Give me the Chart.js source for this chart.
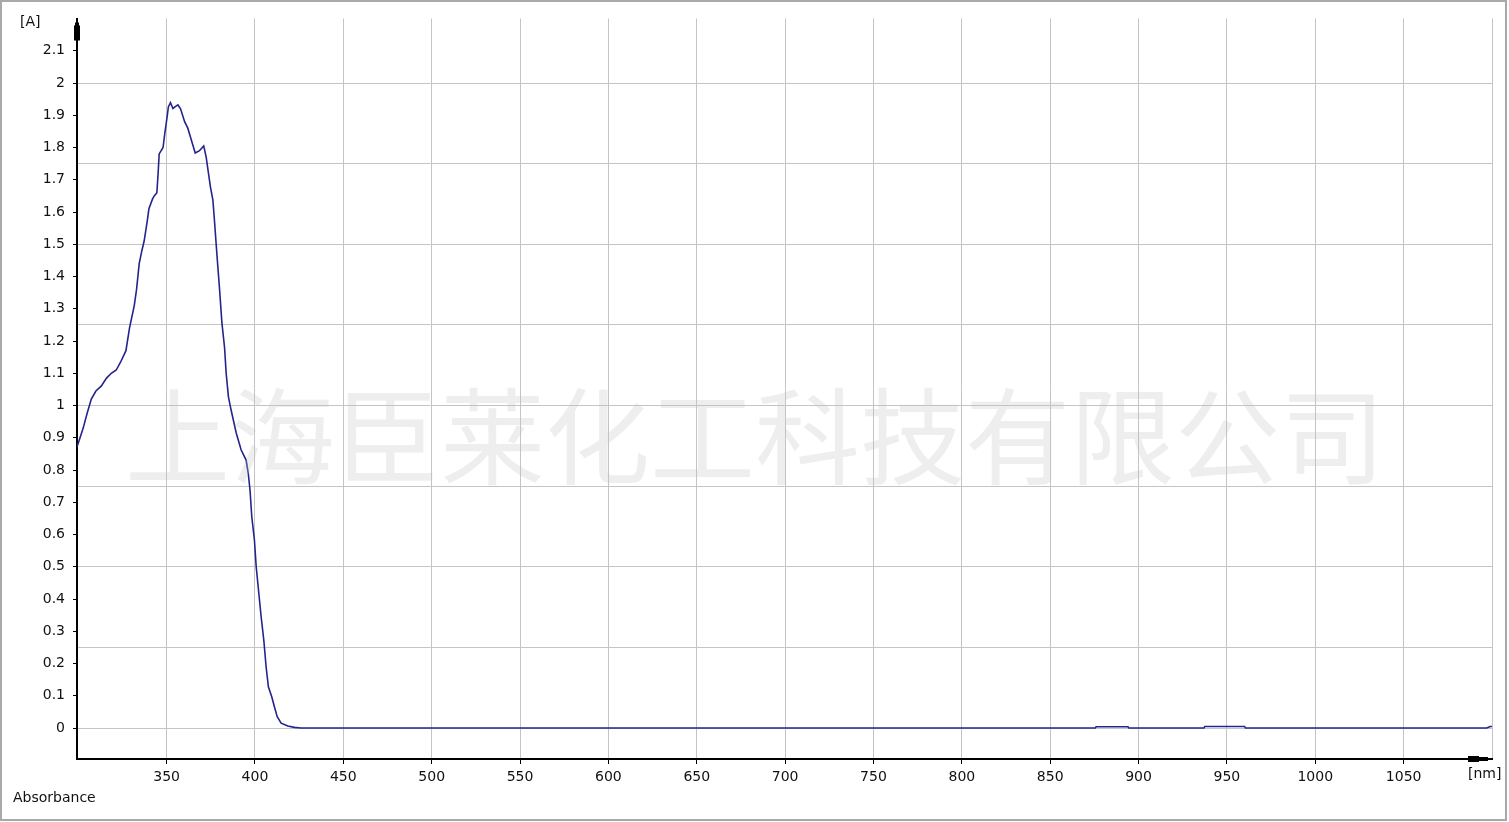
<!DOCTYPE html>
<html>
<head>
<meta charset="utf-8">
<script src="https://cdn.jsdelivr.net/npm/chart.js@4/dist/chart.umd.min.js"></script>
<style>
  html, body { margin: 0; padding: 0; background: #fff; }
  #wrap { position: relative; width: 1509px; height: 822px; overflow: hidden; background: #fff; }
  #c { position: absolute; left: 0; top: 0; }
  .lbl { position: absolute; font-family: "DejaVu Sans", sans-serif; font-size: 14px; line-height: 14px; color: #111; white-space: nowrap; }
  #frame { position: absolute; left: 0; top: 0; width: 1503px; height: 817px; border: 2px solid #a9a9a9; pointer-events: none; }
  #wm { position: absolute; left: 125px; top: 378px; font-family: "Noto Sans CJK SC", sans-serif; font-size: 105px; line-height: 105px; color: rgba(195,195,195,0.28); white-space: nowrap; pointer-events: none; }
</style>
</head>
<body>
<div id="wrap">
  <canvas id="c" width="1509" height="822"></canvas>
  <div class="lbl" style="left:20px;top:14px;">[A]</div>
  <div class="lbl" style="left:1468px;top:766px;">[nm]</div>
  <div class="lbl" style="left:13px;top:790px;">Absorbance</div>
  <div id="wm">上海臣莱化工科技有限公司</div>
  <div id="frame"></div>
</div>
<script>
// ---- data ----
const wavelengths = [
  299.3, 302.8, 305, 307.4, 310, 313, 316, 318.7, 321.5, 324, 327, 329, 331.7, 333, 334.5,
  336, 337.3, 339, 340, 342, 343, 344.5, 345.2, 345.8, 348, 349, 350.3, 351, 352.2, 353.6,
  354.9, 356.4, 357.9, 360.2, 362, 364, 366.2, 368.6, 371, 372.4, 373.7, 374.8, 376.2, 377,
  378, 379, 380, 381.3, 382.8, 383.7, 385, 386.5, 389.4, 392.2, 395, 396.2, 397.2, 398.2,
  399.7, 400.7, 402, 403.5, 405, 406.3, 407.6, 409.5, 411, 412.6, 414.8, 418.6, 422.3, 426,
  875.5, 876, 894, 894.5, 937, 937.5, 960, 960.5, 1097, 1099, 1100
];
const absorbance = [
  0.871, 0.93, 0.975, 1.02, 1.045, 1.06, 1.085, 1.10, 1.11, 1.135, 1.17, 1.24, 1.31, 1.36, 1.44,
  1.48, 1.51, 1.57, 1.61, 1.64, 1.65, 1.66, 1.72, 1.78, 1.80, 1.845, 1.895, 1.926, 1.939, 1.921,
  1.927, 1.932, 1.92, 1.88, 1.86, 1.823, 1.783, 1.79, 1.805, 1.77, 1.72, 1.678, 1.637, 1.58,
  1.504, 1.43, 1.358, 1.256, 1.18, 1.10, 1.027, 0.986, 0.915, 0.862, 0.831, 0.79, 0.738, 0.655,
  0.583, 0.5, 0.428, 0.345, 0.273, 0.19, 0.128, 0.097, 0.066, 0.035, 0.015, 0.006, 0.002, 0,
  0, 0.004, 0.004, 0, 0, 0.005, 0.005, 0, 0, 0.005, 0.005
];
const xTickLabels = [350, 400, 450, 500, 550, 600, 650, 700, 750, 800, 850, 900, 950, 1000, 1050];
const yTickLabels = [0, 0.1, 0.2, 0.3, 0.4, 0.5, 0.6, 0.7, 0.8, 0.9, 1, 1.1, 1.2, 1.3, 1.4, 1.5, 1.6, 1.7, 1.8, 1.9, 2, 2.1];
const yGridValues = [0, 0.25, 0.5, 0.75, 1, 1.25, 1.5, 1.75, 2];
const xGridValues = [350, 400, 450, 500, 550, 600, 650, 700, 750, 800, 850, 900, 950, 1000, 1050, 1100];

const points = wavelengths.map((w, i) => ({ x: w, y: absorbance[i] }));
const GRID = '#c4c4c4';
const FONT = { family: 'DejaVu Sans', size: 14 };

const arrows = {
  id: 'arrows',
  afterDraw(chart) {
    const { ctx, chartArea: a } = chart;
    ctx.save();
    ctx.fillStyle = '#000';
    // y axis arrow
    ctx.fillRect(a.left - 3, a.top + 7, 6, 15);
    ctx.fillRect(a.left - 2, a.top + 4, 4, 4);
    // x axis arrow
    ctx.fillRect(a.right - 24, a.bottom - 3, 11, 6);
    ctx.fillRect(a.right - 14, a.bottom - 2, 10, 4);
    ctx.restore();
  }
};

new Chart(document.getElementById('c'), {
  type: 'line',
  data: {
    datasets: [{
      data: points,
      borderColor: '#24248c',
      borderWidth: 1.6,
      pointRadius: 0,
      tension: 0,
      fill: false
    }]
  },
  options: {
    responsive: false,
    animation: false,
    events: [],
    layout: { padding: { left: 0, right: 17, top: 18.5, bottom: 23 } },
    plugins: { legend: { display: false }, tooltip: { enabled: false } },
    scales: {
      x: {
        type: 'linear',
        min: 299.3, max: 1100,
        afterFit: s => { s.height = 40; },
        afterBuildTicks: s => { s.ticks = xGridValues.map(v => ({ value: v })); },
        ticks: {
          font: FONT, color: '#111', padding: 5, maxRotation: 0, autoSkip: false,
          callback: v => xTickLabels.includes(v) ? String(v) : ''
        },
        grid: {
          color: GRID, lineWidth: 1, drawTicks: true, tickLength: 5,
          tickColor: c => (c.tick && c.tick.value === 1100) ? 'rgba(0,0,0,0)' : '#000'
        },
        border: { display: true, color: '#000', width: 2 }
      },
      y: {
        type: 'linear',
        position: 'left',
        min: -0.096, max: 2.2,
        afterFit: s => { s.width = 77; },
        afterBuildTicks: s => { s.ticks = yTickLabels.map(v => ({ value: v })); },
        ticks: {
          font: FONT, color: '#111', padding: 8, autoSkip: false,
          callback: v => String(+v.toFixed(1))
        },
        grid: { drawOnChartArea: false, drawTicks: true, tickLength: 4, tickColor: '#000' },
        border: { display: true, color: '#000', width: 2 }
      },
      yGrid: {
        type: 'linear',
        position: 'left',
        min: -0.096, max: 2.2,
        afterFit: s => { s.width = 0; },
        afterBuildTicks: s => { s.ticks = yGridValues.map(v => ({ value: v })); },
        ticks: { display: false },
        grid: { color: GRID, lineWidth: 1, drawTicks: false },
        border: { display: false }
      }
    }
  },
  plugins: [arrows]
});
</script>
</body>
</html>
